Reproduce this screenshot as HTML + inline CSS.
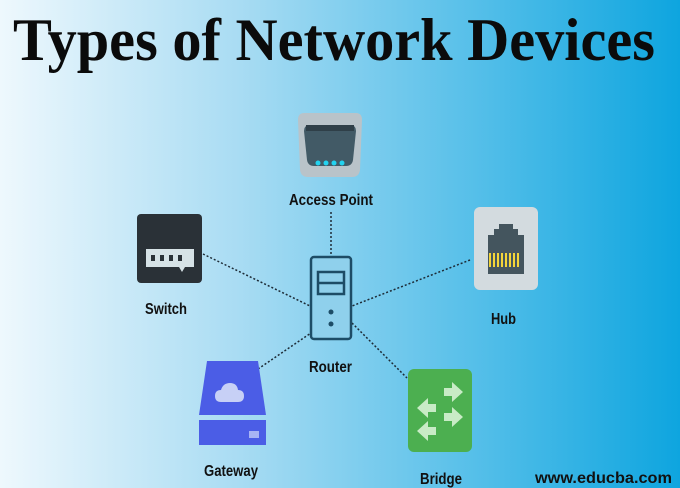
<!DOCTYPE html>
<html><head><meta charset="utf-8"><style>html,body{margin:0;padding:0;}svg{display:block}</style></head><body>
<svg width="680" height="488" viewBox="0 0 680 488" xmlns="http://www.w3.org/2000/svg">
<defs>
<linearGradient id="bg" x1="0" y1="0" x2="1" y2="0">
<stop offset="0" stop-color="#eef8fd"/>
<stop offset="0.35" stop-color="#a9dcf3"/>
<stop offset="0.7" stop-color="#55bfe9"/>
<stop offset="1" stop-color="#0ea5df"/>
</linearGradient>
</defs>
<rect width="680" height="488" fill="url(#bg)"/>
<text x="13" y="60" font-family="Liberation Serif, serif" font-weight="bold" font-size="60" textLength="642" lengthAdjust="spacingAndGlyphs" fill="#0b0b0b">Types of Network Devices</text>

<g stroke="#1d2b36" stroke-width="1.5" stroke-dasharray="2,2" fill="none">
<line x1="331" y1="212" x2="331" y2="255"/>
<line x1="203" y1="254" x2="310" y2="306"/>
<line x1="470" y1="260" x2="352" y2="306"/>
<line x1="258" y1="369" x2="311" y2="333"/>
<line x1="352" y1="323" x2="407" y2="378"/>
</g>

<!-- Access point -->
<path d="M304 113 H356 Q362 113 362 120 L360 170 Q359 177 352 177 H308 Q301 177 300 170 L298 120 Q298 113 304 113 Z" fill="#b9c3c9"/>
<path d="M310 125 H350 Q356 125 356 131 L353 160 Q352 166 346 166 H314 Q308 166 307 160 L304 131 Q304 125 310 125 Z" fill="#425a66"/>
<rect x="306" y="125" width="48" height="6" fill="#2f3f48"/>
<g fill="#22d3f0"><circle cx="318" cy="163" r="2.5"/><circle cx="326" cy="163" r="2.5"/><circle cx="334" cy="163" r="2.5"/><circle cx="342" cy="163" r="2.5"/></g>

<!-- Switch -->
<rect x="137" y="214" width="65" height="69" rx="4" fill="#2a3137"/>
<path d="M146 249 H194 V267 H185 L182 272 L179 267 H146 Z" fill="#d6e2e6"/>
<g fill="#2a3137"><rect x="151" y="255" width="4" height="6"/><rect x="160" y="255" width="4" height="6"/><rect x="169" y="255" width="4" height="6"/><rect x="178" y="255" width="4" height="6"/></g>

<!-- Router -->
<rect x="311" y="257" width="40" height="82" rx="3" fill="#8fd0ec" stroke="#1d4c66" stroke-width="2.5"/>
<rect x="318" y="272" width="26" height="22" fill="#8fd0ec" stroke="#1d4c66" stroke-width="2.5"/>
<line x1="318" y1="283" x2="344" y2="283" stroke="#1d4c66" stroke-width="2.5"/>
<circle cx="331" cy="312" r="2.5" fill="#1d4c66"/><circle cx="331" cy="324" r="2.5" fill="#1d4c66"/>

<!-- Hub -->
<rect x="474" y="207" width="64" height="83" rx="6" fill="#d3dbdf"/>
<path d="M488 274 V235 H494 V229 H499 V224 H513 V229 H518 V235 H524 V274 Z" fill="#44555e"/>
<g fill="#f3d53a"><rect x="489" y="253" width="2" height="14"/><rect x="493" y="253" width="2" height="14"/><rect x="497" y="253" width="2" height="14"/><rect x="501" y="253" width="2" height="14"/><rect x="505" y="253" width="2" height="14"/><rect x="509" y="253" width="2" height="14"/><rect x="513" y="253" width="2" height="14"/><rect x="517" y="253" width="2" height="14"/></g>

<!-- Gateway -->
<path d="M207 361 H258 L266 415 H199 Z" fill="#4b5de6"/>
<rect x="199" y="420" width="67" height="25" fill="#4b5de6"/>
<rect x="249" y="431" width="10" height="7" fill="#a8b4f4"/>
<path d="M221 402 Q215 402 215 396 Q215 390 221 390 Q223 383 230 383 Q237 383 238 390 Q244 390 244 396 Q244 402 238 402 Z" fill="#c7d0f6"/>

<!-- Bridge -->
<rect x="408" y="369" width="64" height="83" rx="6" fill="#4caf50"/>
<g fill="#c8ebc6">
<path d="M444 396 V388 H452 V382 L463 392 L452 402 V396 Z"/>
<path d="M444 421 V413 H452 V407 L463 417 L452 427 V421 Z"/>
<path d="M436 404 V412 H428 V418 L417 408 L428 398 V404 Z" transform="translate(0,0)"/>
<path d="M436 427 V435 H428 V441 L417 431 L428 421 V427 Z"/>
</g>

<g font-family="Liberation Sans, sans-serif" font-weight="bold" font-size="16" fill="#111">
<text x="289" y="205" textLength="84" lengthAdjust="spacingAndGlyphs">Access Point</text>
<text x="145" y="314" textLength="42" lengthAdjust="spacingAndGlyphs">Switch</text>
<text x="491" y="324" textLength="25" lengthAdjust="spacingAndGlyphs">Hub</text>
<text x="309" y="372" textLength="43" lengthAdjust="spacingAndGlyphs">Router</text>
<text x="204" y="476" textLength="54" lengthAdjust="spacingAndGlyphs">Gateway</text>
<text x="420" y="484" textLength="42" lengthAdjust="spacingAndGlyphs">Bridge</text>
<text x="535" y="483" textLength="137" lengthAdjust="spacingAndGlyphs">www.educba.com</text>
</g>
</svg>
</body></html>
